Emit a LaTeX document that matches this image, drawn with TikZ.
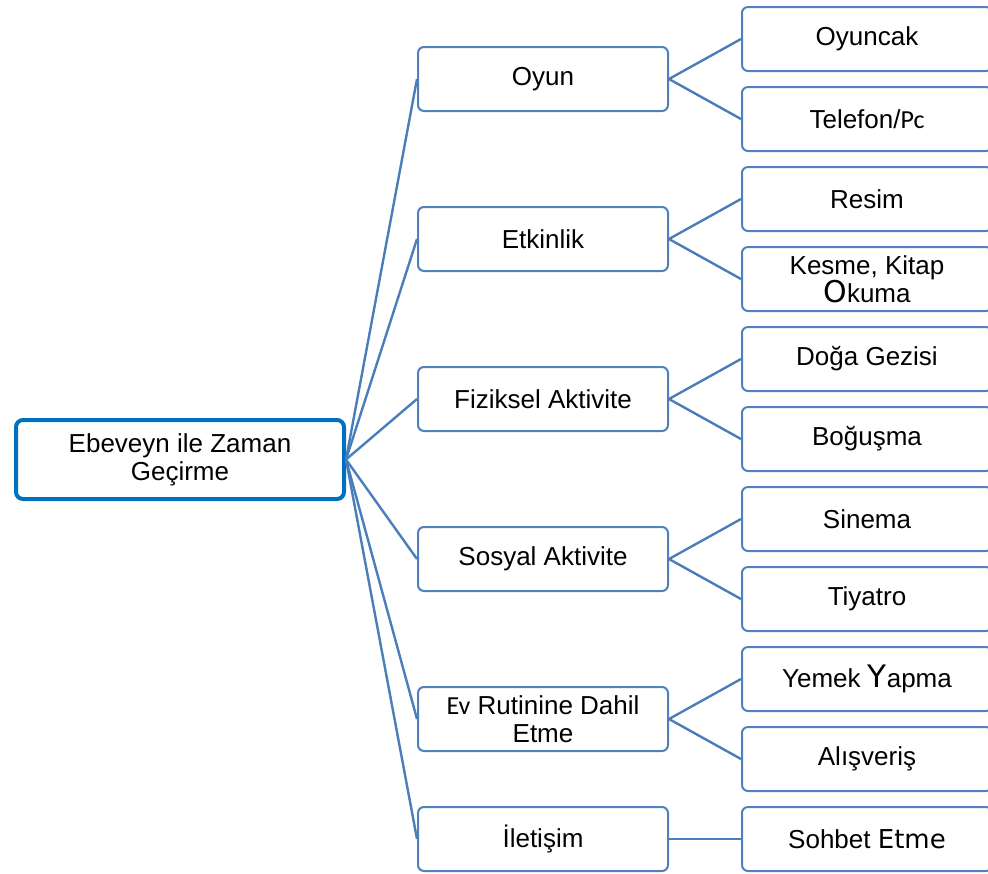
\documentclass[tikz,border=0pt]{standalone}
\usepackage{fontspec}
\setmainfont{Liberation Sans}
\newfontfamily\calfont{Carlito}
\newfontfamily\dvfont{DejaVu Sans}
\usepackage{tikz}
\usetikzlibrary{positioning}
\usepackage{xcolor}
\definecolor{boxblue}{HTML}{4F81BD}
\definecolor{rootblue}{HTML}{0070C0}
\definecolor{linkblue}{HTML}{4A7EBB}

\begin{document}
\begin{tikzpicture}[
    x=1pt, y=-1pt,
    every node/.style={font=\fontsize{26}{28}\selectfont},
    topic/.style={rectangle, draw=boxblue, line width=2pt, rounded corners=6pt, fill=white, minimum width=250pt, minimum height=64pt, align=center, inner sep=2pt},
    main/.style={rectangle, draw=rootblue, line width=4pt, rounded corners=7pt, fill=white, minimum width=328pt, minimum height=79pt, align=center, inner sep=2pt},
    link/.style={draw=linkblue, line width=2.4pt},
]
    \clip (0,0) rectangle (988,873);

    \node[main] (root) at (180, 459.5) {Ebeveyn ile Zaman\\Geçirme};

    % middle column
    \node[topic] (oyun) at (543, 79) {Oyun};
    \node[topic] (etk) at (543, 239) {Etkinlik};
    \node[topic] (fiz) at (543, 399) {Fiziksel Aktivite};
    \node[topic] (sos) at (543, 559) {Sosyal Aktivite};
    \node[topic] (ev) at (543, 719) {{\calfont Ev} Rutinine Dahil\\Etme};
    \node[topic] (ilet) at (543, 839) {İletişim};

    % right column
    \node[topic] (oyuncak) at (867, 39) {Oyuncak};
    \node[topic] (tel) at (867, 119) {Telefon/{\calfont Pc}};
    \node[topic] (resim) at (867, 199) {Resim};
    \node[topic] (kesme) at (867, 279) {Kesme, Kitap\\{\dvfont\fontsize{30}{28}\selectfont O}kuma};
    \node[topic] (doga) at (867, 359) {Doğa Gezisi};
    \node[topic] (bogus) at (867, 439) {Boğuşma};
    \node[topic] (sinema) at (867, 519) {Sinema};
    \node[topic] (tiyatro) at (867, 599) {Tiyatro};
    \node[topic] (yemek) at (867, 679) {Yemek {\dvfont\fontsize{31}{28}\selectfont Y}apma};
    \node[topic] (alis) at (867, 759) {Alışveriş};
    \node[topic] (sohbet) at (867, 839) {Sohbet {\dvfont Etme}};

    \foreach \m in {oyun, etk, fiz, sos, ev, ilet}
        \draw[link] (root.east) -- (\m.west);
    \draw[link] (oyun.east) -- (oyuncak.west);
    \draw[link] (oyun.east) -- (tel.west);
    \draw[link] (etk.east) -- (resim.west);
    \draw[link] (etk.east) -- (kesme.west);
    \draw[link] (fiz.east) -- (doga.west);
    \draw[link] (fiz.east) -- (bogus.west);
    \draw[link] (sos.east) -- (sinema.west);
    \draw[link] (sos.east) -- (tiyatro.west);
    \draw[link] (ev.east) -- (yemek.west);
    \draw[link] (ev.east) -- (alis.west);
    \draw[link] (ilet.east) -- (sohbet.west);
\end{tikzpicture}
\end{document}
